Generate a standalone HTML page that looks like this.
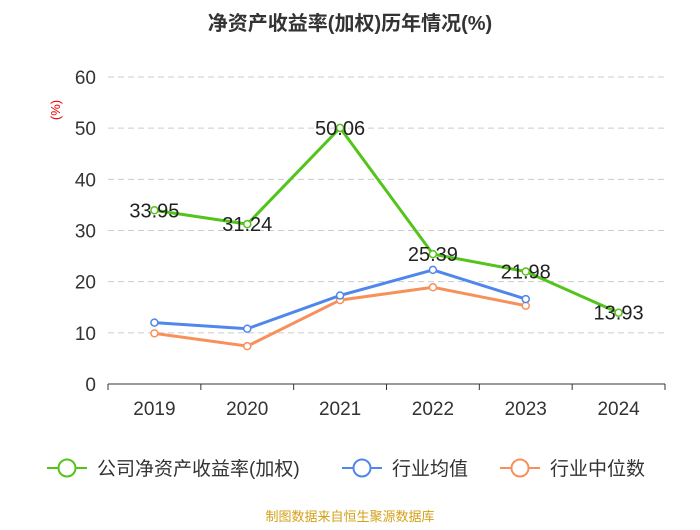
<!DOCTYPE html>
<html><head><meta charset="utf-8"><style>
body{margin:0;background:#fff;font-family:"Liberation Sans","Noto Sans CJK SC",sans-serif}
</style></head><body>
<svg id="c" width="700" height="525" xmlns="http://www.w3.org/2000/svg" font-family="Liberation Sans, Noto Sans CJK SC, sans-serif">
<text x="350" y="30" text-anchor="middle" font-size="20" font-weight="bold" fill="#333">净资产收益率(加权)历年情况(%)</text>
<text x="60" y="110" text-anchor="middle" font-size="13" fill="#e00" transform="rotate(-90 60 110)">(%)</text>
<g id="grid"></g><g id="series"></g>
<g>
<g><line x1="47" y1="468" x2="87" y2="468" stroke="#52c41a" stroke-width="2"/><circle cx="67" cy="468" r="8.5" fill="#fff" stroke="#52c41a" stroke-width="2"/><text x="97" y="475" font-size="19" fill="#333">公司净资产收益率(加权)</text></g>
<g><line x1="342" y1="468" x2="382" y2="468" stroke="#5087ec" stroke-width="2"/><circle cx="362" cy="468" r="8.5" fill="#fff" stroke="#5087ec" stroke-width="2"/><text x="392" y="475" font-size="19" fill="#333">行业均值</text></g>
<g><line x1="500" y1="468" x2="540" y2="468" stroke="#f7915c" stroke-width="2"/><circle cx="520" cy="468" r="8.5" fill="#fff" stroke="#f7915c" stroke-width="2"/><text x="550" y="475" font-size="19" fill="#333">行业中位数</text></g>
</g>
<text x="350" y="521" text-anchor="middle" font-size="13" fill="#d4a017">制图数据来自恒生聚源数据库</text>
</svg>
<script>
const categories=["2019","2020","2021","2022","2023","2024"];
const roe=[33.95,31.24,50.06,25.39,21.98,13.93];
const industryAvg=[12.0,10.8,17.3,22.3,16.6];
const industryMedian=[9.9,7.4,16.4,18.9,15.3];
const yTicks=[0,10,20,30,40,50,60];
const NS="http://www.w3.org/2000/svg";
const L=108,R=665,T=77,B=384,yMax=60;
const xs=i=>L+(R-L)/categories.length*(i+0.5);
const ys=v=>B-(B-T)*v/yMax;
function mk(t,a,p){const e=document.createElementNS(NS,t);for(const k in a)e.setAttribute(k,a[k]);p.appendChild(e);return e;}
const g=document.getElementById('grid'),s=document.getElementById('series');
yTicks.forEach(v=>{
 if(v>0){const l=mk('line',{x1:L,x2:R,y1:ys(v),y2:ys(v),stroke:'#ccc','stroke-dasharray':'6,4'},g);
 
 }
 const t=mk('text',{x:L-12,y:ys(v)+7,'text-anchor':'end','font-size':19,fill:'#333'},g);t.textContent=v;
 
 
});
const ax=mk('line',{x1:L,x2:R,y1:B,y2:B,stroke:'#333'},g);


for(let i=0;i<=categories.length;i++){const x=L+(R-L)/categories.length*i;mk('line',{x1:x,x2:x,y1:B,y2:B+6,stroke:'#333'},g);}
categories.forEach((c,i)=>{const t=mk('text',{x:xs(i),y:B+31,'text-anchor':'middle','font-size':19,fill:'#333'},g);t.textContent=c;
 
 });
function series(vals,color,name,labels){
 const p=mk('polyline',{points:vals.map((v,i)=>xs(i)+','+ys(v)).join(' '),fill:'none',stroke:color,'stroke-width':3},s);
 
 
 vals.forEach((v,i)=>{const c=mk('circle',{cx:xs(i),cy:ys(v),r:3.5,fill:'#fff',stroke:color,'stroke-width':1.5},s);
  
  
  if(labels){const t=mk('text',{x:xs(i),y:ys(v)+7,'text-anchor':'middle','font-size':20,fill:'#222'},s);t.textContent=v.toFixed(2);
   
   }
 });
}
series(industryMedian,'#f7915c','industry-median',false);
series(industryAvg,'#5087ec','industry-avg',false);
series(roe,'#52c41a','roe',true);
</script>
</body></html>
